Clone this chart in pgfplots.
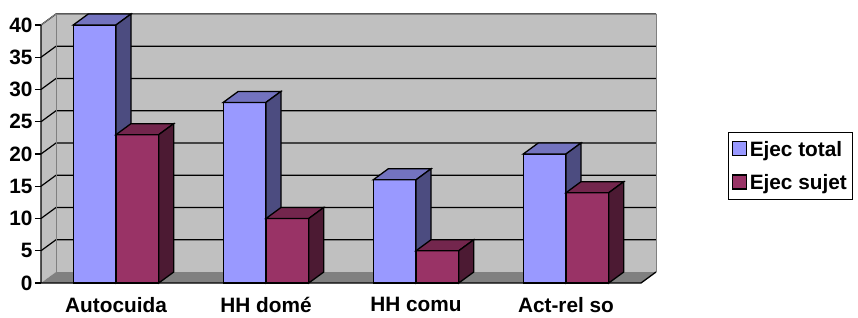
\documentclass[border=0pt]{standalone}
\usepackage{fontspec}
\setmainfont{Liberation Sans}
\usepackage{pgfplots}
\pgfplotsset{compat=1.18}
\usepackage{pgfplotstable}
\definecolor{blueF}{HTML}{9999FF}
\definecolor{blueT}{HTML}{7373BF}
\definecolor{blueS}{HTML}{4C4C80}
\definecolor{marF}{HTML}{993366}
\definecolor{marT}{HTML}{73264D}
\definecolor{marS}{HTML}{4C1A33}
\definecolor{wall}{HTML}{C0C0C0}
\definecolor{floorc}{HTML}{808080}
\pgfplotstableread{
x v
0 40
1 28
2 16
3 20
}\tabtotal
\pgfplotstableread{
x v
0 23
1 10
2 5
3 14
}\tabsujet
\begin{document}
\begin{tikzpicture}
\path[use as bounding box] (-41pt,-34pt) rectangle (817pt,283pt);
\begin{axis}[
  scale only axis,
  width=615pt, height=269pt,
  xmin=-0.5, xmax=3.6, ymin=0, ymax=41.705,
  axis lines*=left,
  axis line style={draw=none},
  tick align=outside,
  major tick length=6pt,
  tick style={black, line width=1.2pt},
  xtick={0,1,2,3},
  xticklabels={Autocuida, HH domé, HH comu, Act-rel so},
  major x tick style={draw=none},
  extra x ticks={-0.5,0.5,1.5,2.5,3.5},
  extra x tick labels={},
  extra x tick style={major x tick style={black, line width=1.2pt}},
  ytick={0,5,...,40},
  /pgf/number format/assume math mode=true,
  ticklabel style={font=\bfseries\fontsize{20.8}{24}\selectfont},
  yticklabel style={xshift=1pt},
  xticklabel style={yshift=-5pt},
  legend style={at={(axis description cs:1.117,0.5613)}, anchor=north west,
    draw=black, line width=1.2pt, font=\bfseries\fontsize{20.8}{24}\selectfont,
    inner xsep=3pt, inner ysep=6.5pt, row sep=13pt,
    nodes={inner xsep=3pt}},
  legend cell align=left,
  clip=false,
]
\addlegendimage{legend image code/.code={\draw[fill=blueF, draw=black, line width=1.2pt] (4pt,-6pt) rectangle (18pt,8pt);}}
\addlegendentry{Ejec total}
\addlegendimage{legend image code/.code={\draw[fill=marF, draw=black, line width=1.2pt] (4pt,-6pt) rectangle (18pt,8pt);}}
\addlegendentry{Ejec sujet}
% walls
\fill[wall] (axis cs:-0.4,1.705) rectangle (axis cs:3.6,41.705);
\fill[wall] (axis cs:-0.5,0) -- (axis cs:-0.4,1.705) -- (axis cs:-0.4,41.705) -- (axis cs:-0.5,40) -- cycle;
\fill[floorc] (axis cs:-0.5,0) -- (axis cs:3.5,0) -- (axis cs:3.6,1.705) -- (axis cs:-0.4,1.705) -- cycle;
\draw[black, line width=1.2pt] (axis cs:-0.5,5) -- (axis cs:-0.4,6.705) -- (axis cs:3.6,6.705);
\draw[black, line width=1.2pt] (axis cs:-0.5,10) -- (axis cs:-0.4,11.705) -- (axis cs:3.6,11.705);
\draw[black, line width=1.2pt] (axis cs:-0.5,15) -- (axis cs:-0.4,16.705) -- (axis cs:3.6,16.705);
\draw[black, line width=1.2pt] (axis cs:-0.5,20) -- (axis cs:-0.4,21.705) -- (axis cs:3.6,21.705);
\draw[black, line width=1.2pt] (axis cs:-0.5,25) -- (axis cs:-0.4,26.705) -- (axis cs:3.6,26.705);
\draw[black, line width=1.2pt] (axis cs:-0.5,30) -- (axis cs:-0.4,31.705) -- (axis cs:3.6,31.705);
\draw[black, line width=1.2pt] (axis cs:-0.5,35) -- (axis cs:-0.4,36.705) -- (axis cs:3.6,36.705);
\draw[black, line width=1.2pt] (axis cs:-0.5,40) -- (axis cs:-0.4,41.705) -- (axis cs:3.6,41.705);
\draw[floorc, line width=1pt] (axis cs:-0.4,1.705) -- (axis cs:-0.4,41.705) -- (axis cs:3.6,41.705) -- (axis cs:3.6,1.705);
\draw[floorc, line width=1pt] (axis cs:-0.5,40) -- (axis cs:-0.4,41.705);
% blue bars
\addplot[ybar, bar width=0.285, bar shift=-0.1425, fill=blueF, draw=black, line width=1.3pt, forget plot] table[x=x,y=v] {\tabtotal};
\addplot[fill=blueT, draw=black, line width=1.3pt, forget plot] coordinates {(-0.285,40) (0,40) (0.1,41.705) (-0.185,41.705)} -- cycle;
\addplot[fill=blueS, draw=black, line width=1.3pt, forget plot] coordinates {(0,0) (0.1,1.705) (0.1,41.705) (0,40)} -- cycle;
\addplot[fill=blueT, draw=black, line width=1.3pt, forget plot] coordinates {(0.715,28) (1,28) (1.1,29.705) (0.815,29.705)} -- cycle;
\addplot[fill=blueS, draw=black, line width=1.3pt, forget plot] coordinates {(1,0) (1.1,1.705) (1.1,29.705) (1,28)} -- cycle;
\addplot[fill=blueT, draw=black, line width=1.3pt, forget plot] coordinates {(1.715,16) (2,16) (2.1,17.705) (1.815,17.705)} -- cycle;
\addplot[fill=blueS, draw=black, line width=1.3pt, forget plot] coordinates {(2,0) (2.1,1.705) (2.1,17.705) (2,16)} -- cycle;
\addplot[fill=blueT, draw=black, line width=1.3pt, forget plot] coordinates {(2.715,20) (3,20) (3.1,21.705) (2.815,21.705)} -- cycle;
\addplot[fill=blueS, draw=black, line width=1.3pt, forget plot] coordinates {(3,0) (3.1,1.705) (3.1,21.705) (3,20)} -- cycle;
% maroon bars
\addplot[ybar, bar width=0.285, bar shift=0.1425, fill=marF, draw=black, line width=1.3pt, forget plot] table[x=x,y=v] {\tabsujet};
\addplot[fill=marT, draw=black, line width=1.3pt, forget plot] coordinates {(0,23) (0.285,23) (0.385,24.705) (0.1,24.705)} -- cycle;
\addplot[fill=marS, draw=black, line width=1.3pt, forget plot] coordinates {(0.285,0) (0.385,1.705) (0.385,24.705) (0.285,23)} -- cycle;
\addplot[fill=marT, draw=black, line width=1.3pt, forget plot] coordinates {(1,10) (1.285,10) (1.385,11.705) (1.1,11.705)} -- cycle;
\addplot[fill=marS, draw=black, line width=1.3pt, forget plot] coordinates {(1.285,0) (1.385,1.705) (1.385,11.705) (1.285,10)} -- cycle;
\addplot[fill=marT, draw=black, line width=1.3pt, forget plot] coordinates {(2,5) (2.285,5) (2.385,6.705) (2.1,6.705)} -- cycle;
\addplot[fill=marS, draw=black, line width=1.3pt, forget plot] coordinates {(2.285,0) (2.385,1.705) (2.385,6.705) (2.285,5)} -- cycle;
\addplot[fill=marT, draw=black, line width=1.3pt, forget plot] coordinates {(3,14) (3.285,14) (3.385,15.705) (3.1,15.705)} -- cycle;
\addplot[fill=marS, draw=black, line width=1.3pt, forget plot] coordinates {(3.285,0) (3.385,1.705) (3.385,15.705) (3.285,14)} -- cycle;
% front axis lines
\draw[black, line width=1.3pt] (axis cs:-0.5,40) -- (axis cs:-0.5,0) -- (axis cs:3.5,0) -- (axis cs:3.6,1.705);
\end{axis}
\end{tikzpicture}
\end{document}
